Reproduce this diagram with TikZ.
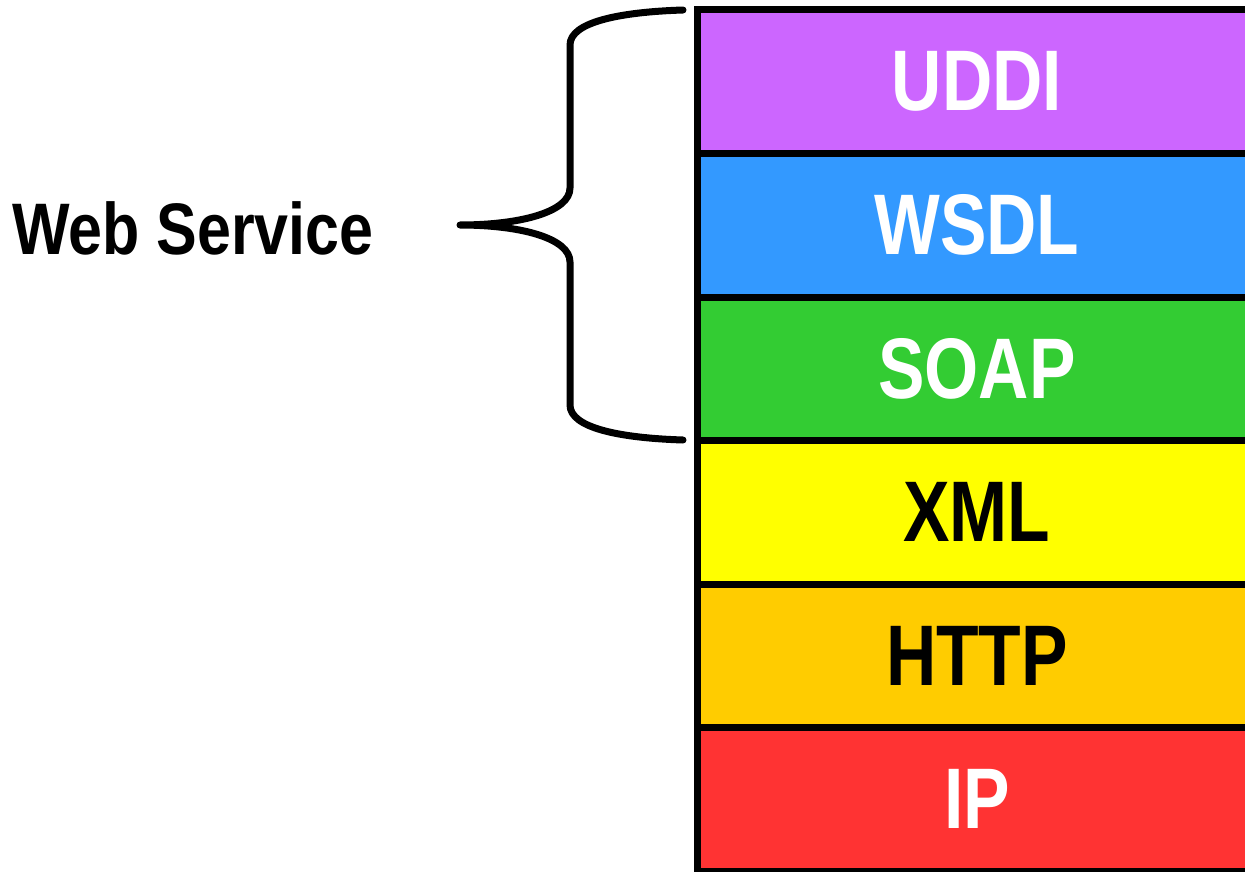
\documentclass[tikz,border=0pt]{standalone}
\usepackage{fontspec}
\setmainfont{Liberation Sans}
\newfontfamily\narrowfont[FakeStretch=0.81]{Liberation Sans}
\newfontfamily\wsfont[FakeStretch=0.835]{Liberation Sans}
\definecolor{cuddi}{HTML}{CC66FF}
\definecolor{cwsdl}{HTML}{3399FF}
\definecolor{csoap}{HTML}{33CC33}
\definecolor{cxml}{HTML}{FFFF00}
\definecolor{chttp}{HTML}{FFCC00}
\definecolor{cip}{HTML}{FF3333}
\begin{document}
\begin{tikzpicture}[x=1pt,y=-1pt,
  layer/.style={draw=black,line width=7pt,minimum width=560pt,minimum height=143.5pt,inner sep=0pt,outer sep=0pt,anchor=north west,
    font=\narrowfont\bfseries\fontsize{86}{86}\selectfont},
  bracestyle/.style={line width=7pt,line cap=round,line join=round}]
\useasboundingbox (0,0) rectangle (1245,872);
\begin{scope}
\clip (0,0) rectangle (1245,872);
\node[layer,fill=cuddi,text=white] (uddi) at (697,10) {UDDI};
\node[layer,fill=cwsdl,text=white] (wsdl) at (697,153.5) {WSDL};
\node[layer,fill=csoap,text=white] (soap) at (697,297) {SOAP};
\node[layer,fill=cxml,text=black] (xml) at (697,440.5) {XML};
\node[layer,fill=chttp,text=black] (http) at (697,584) {HTTP};
\node[layer,fill=cip,text=white] (ip) at (697,727.5) {IP};
\end{scope}
\coordinate (btop) at (683,10);
\coordinate (bbot) at (683,440);
\coordinate (btip) at (460,225);
\draw[bracestyle] (btop) .. controls (620,12) and (570,22) .. (570,45)
  -- (570,188) .. controls (570,212) and (520,225) .. (btip)
  .. controls (520,225) and (570,238) .. (570,262)
  -- (570,405) .. controls (570,428) and (620,438) .. (bbot);
\node[font=\wsfont\bfseries\fontsize{73}{73}\selectfont,anchor=base west,inner sep=0pt] (ws) at (12,254) {Web Service};
\end{tikzpicture}
\end{document}
